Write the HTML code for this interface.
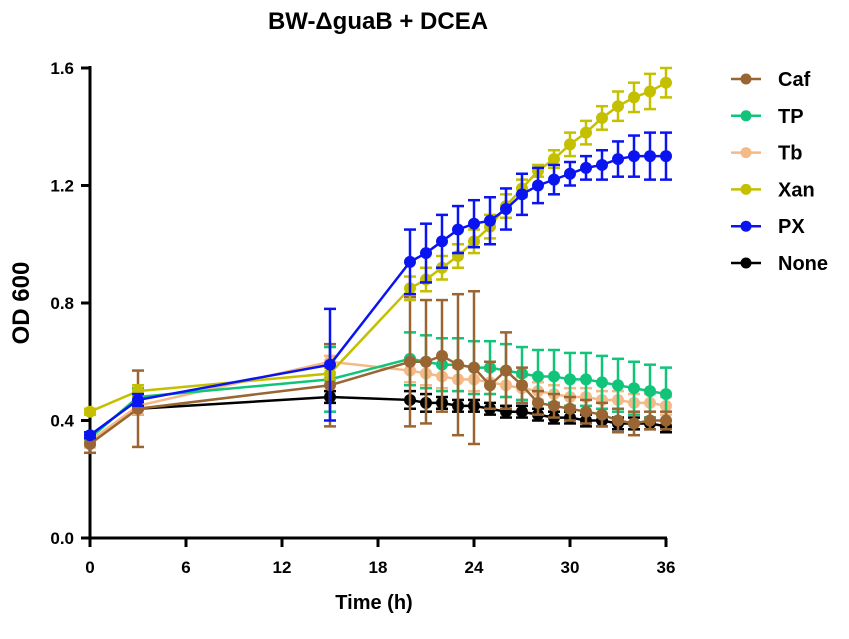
<!DOCTYPE html>
<html><head><meta charset="utf-8"><style>
body{margin:0;background:#fff}
svg text{font-family:"Liberation Sans",Arial,sans-serif;font-weight:bold}
</style></head><body>
<svg id="c" width="849" height="634" xmlns="http://www.w3.org/2000/svg">
<text x="378" y="29" font-size="24" text-anchor="middle">BW-ΔguaB + DCEA</text>
<text x="374" y="609" font-size="20" text-anchor="middle">Time (h)</text>
<text transform="translate(29,303) rotate(-90)" font-size="24" text-anchor="middle">OD 600</text>
<g id="axes"></g><g id="plot"></g><g id="legend"></g>
</svg>
<script>
const times=[0,3,15,20,21,22,23,24,25,26,27,28,29,30,31,32,33,34,35,36];
const xTicks=[0,6,12,18,24,30,36];
const yTicks=[0,0.4,0.8,1.2,1.6];
const yTickLabels=["0.0","0.4","0.8","1.2","1.6"];
const seriesNames=["Caf","TP","Tb","Xan","PX","None"];
const seriesColors=["#996633","#11c47a","#f4b987","#c4c000","#0a14f0","#000000"];
const cafMean=[0.32,0.44,0.52,0.60,0.60,0.62,0.59,0.58,0.52,0.57,0.52,0.46,0.45,0.44,0.43,0.42,0.40,0.39,0.40,0.40];
const cafErr=[0.03,0.13,0.14,0.22,0.21,0.19,0.24,0.26,0.08,0.13,0.06,0.04,0.04,0.04,0.04,0.04,0.04,0.04,0.03,0.03];
const tpMean=[0.34,0.48,0.54,0.61,0.60,0.59,0.59,0.58,0.58,0.57,0.56,0.55,0.55,0.54,0.54,0.53,0.52,0.51,0.50,0.49];
const tpErr=[0.02,0.03,0.11,0.09,0.09,0.09,0.09,0.09,0.09,0.09,0.09,0.09,0.09,0.09,0.09,0.09,0.09,0.09,0.09,0.09];
const tbMean=[0.33,0.45,0.60,0.57,0.56,0.55,0.54,0.54,0.53,0.52,0.51,0.50,0.49,0.48,0.48,0.47,0.47,0.46,0.46,0.45];
const tbErr=[0.02,0.03,0.02,0.04,0.04,0.04,0.04,0.04,0.04,0.04,0.04,0.03,0.03,0.03,0.03,0.03,0.03,0.03,0.03,0.03];
const xanMean=[0.43,0.50,0.56,0.85,0.88,0.92,0.96,1.01,1.06,1.13,1.19,1.25,1.29,1.34,1.38,1.43,1.47,1.50,1.52,1.55];
const xanErr=[0.01,0.02,0.02,0.04,0.04,0.04,0.04,0.04,0.04,0.04,0.03,0.02,0.03,0.04,0.04,0.04,0.05,0.05,0.06,0.05];
const pxMean=[0.35,0.47,0.59,0.94,0.97,1.01,1.05,1.07,1.08,1.12,1.17,1.20,1.22,1.24,1.26,1.27,1.29,1.30,1.30,1.30];
const pxErr=[0.01,0.02,0.19,0.11,0.10,0.09,0.08,0.08,0.08,0.07,0.07,0.06,0.05,0.04,0.04,0.05,0.06,0.07,0.08,0.08];
const noneMean=[0.33,0.44,0.48,0.47,0.46,0.46,0.45,0.45,0.44,0.43,0.43,0.42,0.41,0.41,0.40,0.40,0.39,0.39,0.39,0.38];
const noneErr=[0.02,0.02,0.02,0.03,0.03,0.02,0.02,0.02,0.02,0.02,0.02,0.02,0.02,0.02,0.02,0.02,0.02,0.02,0.02,0.02];
const means=[cafMean,tpMean,tbMean,xanMean,pxMean,noneMean];
const errs=[cafErr,tpErr,tbErr,xanErr,pxErr,noneErr];
const X=t=>90+t*16, Y=v=>538-v*293.75;
const NS="http://www.w3.org/2000/svg";
function mk(tag,at,parent){const e=document.createElementNS(NS,tag);for(const k in at)e.setAttribute(k,at[k]);parent.appendChild(e);return e;}
const axes=document.getElementById('axes'),plot=document.getElementById('plot'),leg=document.getElementById('legend');
let e=mk('line',{x1:90,y1:66,x2:90,y2:539,stroke:'#000','stroke-width':3},axes);

e=mk('line',{x1:89,y1:538,x2:667,y2:538,stroke:'#000','stroke-width':3},axes);

xTicks.forEach(t=>{mk('line',{x1:X(t),y1:538,x2:X(t),y2:547,stroke:'#000','stroke-width':3},axes);
 const tx=mk('text',{x:X(t),y:573,'font-size':17,'text-anchor':'middle'},axes);tx.textContent=t;
 });
yTicks.forEach((v,i)=>{mk('line',{x1:81,y1:Y(v),x2:90,y2:Y(v),stroke:'#000','stroke-width':3},axes);
 const tx=mk('text',{x:74,y:Y(v)+6,'font-size':17,'text-anchor':'end'},axes);tx.textContent=yTickLabels[i];
 });
const order=[5,2,1,0,3,4];
order.forEach(s=>{
 const g=mk('g',{},plot);
 
 
 const c=seriesColors[s];
 means[s].forEach((m,i)=>{const x=X(times[i]),lo=Y(m-errs[s][i]),hi=Y(m+errs[s][i]);
  mk('line',{x1:x,y1:lo,x2:x,y2:hi,stroke:c,'stroke-width':2.5},g);
  mk('line',{x1:x-6,y1:lo,x2:x+6,y2:lo,stroke:c,'stroke-width':2.5},g);
  mk('line',{x1:x-6,y1:hi,x2:x+6,y2:hi,stroke:c,'stroke-width':2.5},g);});
 mk('polyline',{points:means[s].map((m,i)=>X(times[i])+','+Y(m)).join(' '),fill:'none',stroke:c,'stroke-width':2.5},g);
 means[s].forEach((m,i)=>{const p=mk('circle',{cx:X(times[i]),cy:Y(m),r:6,fill:c},g);
  });
});
seriesNames.forEach((n,i)=>{const y=79+i*36.8;const g=mk('g',{},leg);
 
 mk('line',{x1:731,y1:y,x2:761,y2:y,stroke:seriesColors[i],'stroke-width':2.5},g);
 mk('circle',{cx:746,cy:y,r:5.5,fill:seriesColors[i]},g);
 const t=mk('text',{x:778,y:y+7,'font-size':20},g);t.textContent=n;});
</script>
</body></html>
